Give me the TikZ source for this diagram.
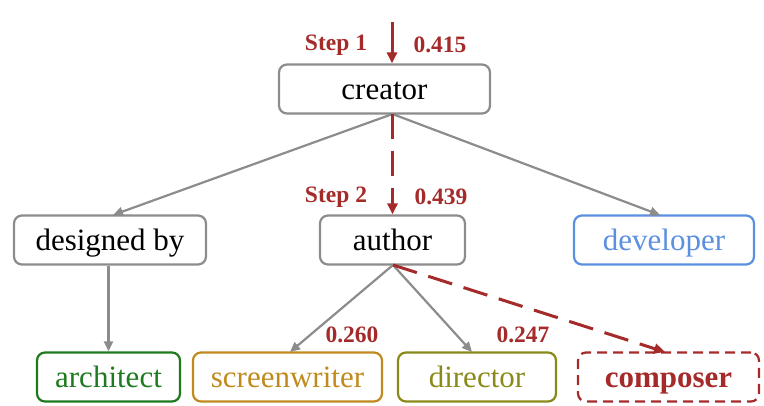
\documentclass[tikz,border=0pt]{standalone}
\usepackage{fontspec}
\setmainfont{Liberation Serif}
\usetikzlibrary{arrows.meta}
\definecolor{relred}{HTML}{A52A2A}
\definecolor{edgegray}{HTML}{8C8C8C}
\definecolor{archgreen}{HTML}{1E7A1E}
\definecolor{writergold}{HTML}{C08A1E}
\definecolor{dirolive}{HTML}{8A8A1A}
\definecolor{devblue}{HTML}{5B8FE0}
\begin{document}
\begin{tikzpicture}[x=1pt,y=-1pt,
  box/.style={draw=edgegray,line width=2.2pt,rounded corners=8pt,minimum height=49pt,
    inner sep=0pt,text height=24pt,text depth=4pt,
    font=\fontsize{31}{36}\selectfont,anchor=center},
  graph/.style={draw=edgegray,line width=2.2pt,-{Triangle[length=10pt,width=9pt]}},
  relpath/.style={draw=relred,line width=3pt,dash pattern=on 25pt off 12pt,
    -{Triangle[length=11pt,width=10pt]}},
  score/.style={text=relred,font=\fontsize{23.5}{28}\selectfont\bfseries,inner sep=0pt}]
\useasboundingbox (0,0) rectangle (764,405);

% nodes of the relation tree
\node[box,minimum width=211pt] (creator) at (384.5,89) {creator};
\node[box,minimum width=192pt] (designed) at (110,240) {designed by};
\node[box,minimum width=145pt] (author) at (392.5,240) {author};
\node[box,minimum width=180pt,draw=devblue,text=devblue] (developer) at (664,240) {developer};
\node[box,minimum width=143pt,draw=archgreen,text=archgreen] (architect) at (108.5,377) {architect};
\node[box,minimum width=189pt,draw=writergold,text=writergold] (writer) at (287.5,377) {screenwriter};
\node[box,minimum width=158pt,draw=dirolive,text=dirolive] (director) at (477,377) {director};
\node[box,minimum width=181pt,draw=relred,text=relred,dash pattern=on 10pt off 6pt,
  font=\fontsize{31}{36}\selectfont\bfseries] (composer) at (668.5,377) {composer};

% attachment points on the boxes
\coordinate (entry) at (392,22);
\coordinate (cbot) at (392.5,114);
\coordinate (abot) at (393,265);

% tree edges
\draw[graph] (cbot) -- (113,215);
\draw[graph] (cbot) -- (660,215);
\draw[graph] (designed.south -| architect.north) -- (architect.north);
\draw[graph] (abot) -- (290,352);
\draw[graph] (abot) -- (472,352);

% selected path
\draw[relpath,dash pattern=on 32pt off 12pt] (entry) -- (creator.north -| entry);
\draw[relpath] (cbot) -- (author.north -| cbot);
\draw[relpath] (abot) -- (665,352);

% scores
\node[score] (s1) at (336,45) {Step 1};
\node[score] (p1) at (440,45) {0.415};
\node[score] (s2) at (336,197) {Step 2};
\node[score] (p2) at (441,197) {0.439};
\node[score] (p3) at (352,335) {0.260};
\node[score] (p4) at (523,335) {0.247};
\end{tikzpicture}
\end{document}
